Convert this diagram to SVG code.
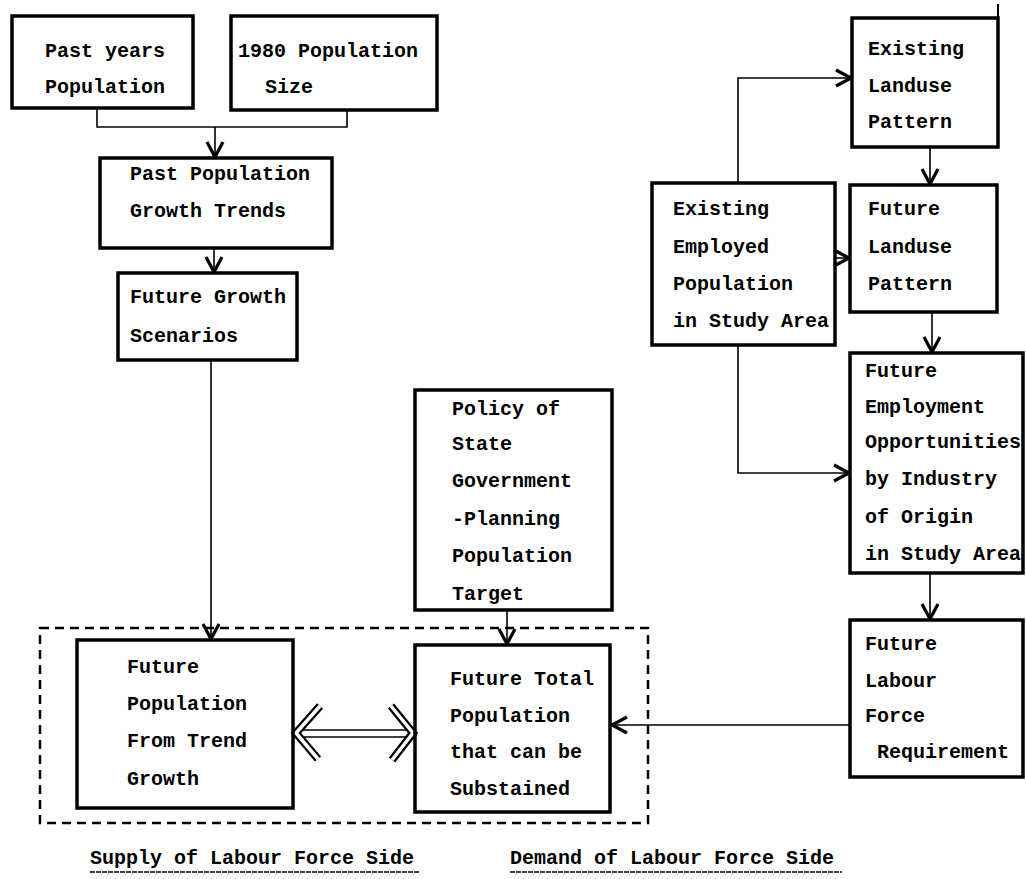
<svg xmlns="http://www.w3.org/2000/svg" width="1026" height="879" viewBox="0 0 1026 879">
<style>
  .box { fill: none; stroke: #000; stroke-width: 3.5; }
  .t { font-family: "Liberation Mono", "DejaVu Sans Mono", monospace; font-weight: bold; font-size: 20px; fill: #000; }
  .c { fill: none; stroke: #000; stroke-width: 1.6; }
  .ca { fill: none; stroke: #000; stroke-width: 1.6; marker-end: url(#v); }
  .dash { fill: none; stroke: #000; stroke-width: 2.5; stroke-dasharray: 9 6; }
  .ul { stroke: #000; stroke-width: 1.5; stroke-dasharray: 5 1; }
</style>
<defs>
  <marker id="v" viewBox="0 0 20 20" refX="18" refY="10" markerWidth="20" markerHeight="20" orient="auto" markerUnits="userSpaceOnUse">
    <path d="M3,2 L18,10 L3,18" fill="none" stroke="#000" stroke-width="3.2"/>
  </marker>
</defs>
<rect width="1026" height="879" fill="#fff"/>

<g id="connectors">
  <path class="c" d="M97,108 V127 H347 V110"/>
  <path class="ca" d="M215,127 V157"/>
  <path class="ca" d="M214,248 V272"/>
  <path class="ca" d="M211,360 V639"/>
  <path class="ca" d="M507,610 V644"/>
  <path class="ca" d="M850,725 H612"/>
  <path class="ca" d="M738,183 V78 H851"/>
  <path class="ca" d="M930,147 V184"/>
  <path class="ca" d="M836,258 H849"/>
  <path class="ca" d="M932,312 V352"/>
  <path class="ca" d="M738,345 V473 H849"/>
  <path class="ca" d="M930,573 V619"/>
  <g id="double-arrow">
    <line x1="300" y1="730" x2="408" y2="730" stroke="#000" stroke-width="1.5"/>
    <line x1="300" y1="737" x2="408" y2="737" stroke="#000" stroke-width="1.5"/>
    <polyline points="320,706 296,733 318,759" fill="none" stroke="#000" stroke-width="8" stroke-linejoin="miter"/>
    <polyline points="320,706 296,733 318,759" fill="none" stroke="#fff" stroke-width="3.5" stroke-linejoin="miter"/>
    <polyline points="391,706 413,733 392,760" fill="none" stroke="#000" stroke-width="8" stroke-linejoin="miter"/>
    <polyline points="391,706 413,733 392,760" fill="none" stroke="#fff" stroke-width="3.5" stroke-linejoin="miter"/>
  </g>
</g>

<g id="supply-group">
  <rect class="dash" x="40" y="628" width="608" height="195"/>
</g>

<g id="past-years">
  <rect class="box" x="12" y="16" width="181" height="92"/>
  <text class="t" x="45" y="57">Past years</text>
  <text class="t" x="45" y="93">Population</text>
</g>

<g id="pop-1980">
  <rect class="box" x="231" y="16" width="206" height="94"/>
  <text class="t" x="238" y="57">1980 Population</text>
  <text class="t" x="265" y="93">Size</text>
</g>

<g id="past-trends">
  <rect class="box" x="100" y="158" width="232" height="90"/>
  <text class="t" x="130" y="180">Past Population</text>
  <text class="t" x="130" y="217">Growth Trends</text>
</g>

<g id="future-scenarios">
  <rect class="box" x="118" y="273" width="179" height="87"/>
  <text class="t" x="130" y="303">Future Growth</text>
  <text class="t" x="130" y="342">Scenarios</text>
</g>

<g id="future-pop-trend">
  <rect class="box" x="77" y="640" width="216" height="168"/>
  <text class="t" x="127" y="673">Future</text>
  <text class="t" x="127" y="710">Population</text>
  <text class="t" x="127" y="747">From Trend</text>
  <text class="t" x="127" y="785">Growth</text>
</g>

<g id="policy">
  <rect class="box" x="415" y="390" width="197" height="220"/>
  <text class="t" x="452" y="415">Policy of</text>
  <text class="t" x="452" y="450">State</text>
  <text class="t" x="452" y="487">Government</text>
  <text class="t" x="452" y="525">-Planning</text>
  <text class="t" x="452" y="562">Population</text>
  <text class="t" x="452" y="600">Target</text>
</g>

<g id="future-total">
  <rect class="box" x="415" y="645" width="195" height="167"/>
  <text class="t" x="450" y="685">Future Total</text>
  <text class="t" x="450" y="722">Population</text>
  <text class="t" x="450" y="758">that can be</text>
  <text class="t" x="450" y="795">Substained</text>
</g>

<g id="existing-landuse">
  <rect class="box" x="852" y="18" width="146" height="129"/>
  <line x1="998" y1="4" x2="998" y2="18" stroke="#000" stroke-width="2"/>
  <text class="t" x="868" y="55">Existing</text>
  <text class="t" x="868" y="92">Landuse</text>
  <text class="t" x="868" y="128">Pattern</text>
</g>

<g id="future-landuse">
  <rect class="box" x="850" y="185" width="147" height="127"/>
  <text class="t" x="868" y="215">Future</text>
  <text class="t" x="868" y="253">Landuse</text>
  <text class="t" x="868" y="290">Pattern</text>
</g>

<g id="existing-employed">
  <rect class="box" x="652" y="183" width="183" height="162"/>
  <text class="t" x="673" y="215">Existing</text>
  <text class="t" x="673" y="253">Employed</text>
  <text class="t" x="673" y="290">Population</text>
  <text class="t" x="673" y="327">in Study Area</text>
</g>

<g id="future-employment">
  <rect class="box" x="850" y="353" width="173" height="220"/>
  <text class="t" x="865" y="377">Future</text>
  <text class="t" x="865" y="413">Employment</text>
  <text class="t" x="865" y="448">Opportunities</text>
  <text class="t" x="865" y="485">by Industry</text>
  <text class="t" x="865" y="523">of Origin</text>
  <text class="t" x="865" y="560">in Study Area</text>
</g>

<g id="future-labour">
  <rect class="box" x="850" y="620" width="173" height="157"/>
  <text class="t" x="865" y="650">Future</text>
  <text class="t" x="865" y="687">Labour</text>
  <text class="t" x="865" y="722">Force</text>
  <text class="t" x="877" y="758">Requirement</text>
</g>

<g id="labels">
  <text class="t" x="90" y="864">Supply of Labour Force Side</text>
  <line class="ul" x1="90" y1="872" x2="420" y2="872"/>
  <text class="t" x="510" y="864">Demand of Labour Force Side</text>
  <line class="ul" x1="510" y1="872" x2="842" y2="872"/>
</g>
</svg>
